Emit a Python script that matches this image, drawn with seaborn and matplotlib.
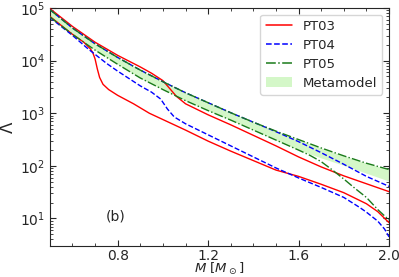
import numpy as np
import pandas as pd
import matplotlib
matplotlib.use("Agg")
import matplotlib.pyplot as plt
import seaborn as sns
from matplotlib.lines import Line2D
from matplotlib.patches import Patch
from matplotlib.ticker import MultipleLocator, LogLocator, NullFormatter

# --- DATA (log10 Lambda) ---
m_band = [0.5, 0.6, 0.7, 0.8, 0.9, 1.0, 1.1, 1.2, 1.3, 1.4, 1.5, 1.6, 1.7, 1.8, 1.9, 2.0]
band_top = [4.97, 4.62, 4.32, 4.06, 3.82, 3.60, 3.39, 3.20, 3.01, 2.83, 2.66, 2.50, 2.34, 2.19, 2.05, 1.93]
band_low = [4.83, 4.50, 4.20, 3.93, 3.67, 3.45, 3.24, 3.05, 2.87, 2.68, 2.49, 2.30, 2.15, 2.01, 1.86, 1.71]

m_pt03a = [0.5, 0.6, 0.7, 0.8, 0.9, 0.95, 1.0, 1.03, 1.06, 1.1, 1.2, 1.3, 1.4, 1.5, 1.6, 1.7, 1.8, 1.9, 2.0]
pt03a = [4.99, 4.65, 4.35, 4.10, 3.88, 3.76, 3.62, 3.47, 3.32, 3.18, 2.97, 2.78, 2.58, 2.38, 2.17, 1.98, 1.81, 1.66, 1.51]

m_pt03b = [0.5, 0.6, 0.65, 0.68, 0.69, 0.70, 0.71, 0.72, 0.735, 0.76, 0.8, 0.87, 0.94, 1.0, 1.1, 1.2, 1.3,
           1.4, 1.5, 1.6, 1.7, 1.8, 1.9, 1.95, 2.0]
pt03b = [4.84, 4.50, 4.35, 4.22, 4.15, 4.03, 3.84, 3.68, 3.55, 3.45, 3.34, 3.18, 3.00, 2.88, 2.68, 2.47, 2.28,
         2.10, 1.92, 1.80, 1.65, 1.49, 1.28, 1.13, 0.92]

m_pt04a = [0.5, 0.6, 0.7, 0.8, 0.9, 1.0, 1.1, 1.2, 1.3, 1.4, 1.5, 1.6, 1.7, 1.8, 1.9, 2.0]
pt04a = [4.97, 4.62, 4.32, 4.06, 3.82, 3.60, 3.39, 3.20, 3.01, 2.83, 2.65, 2.46, 2.25, 2.03, 1.80, 1.61]

m_pt04b = [0.5, 0.6, 0.67, 0.75, 0.8, 0.9, 0.95, 0.99, 1.02, 1.05, 1.1, 1.2, 1.3, 1.4, 1.5, 1.6, 1.7, 1.8,
           1.87, 1.9, 1.95, 1.98, 2.0]
pt04b = [4.82, 4.48, 4.22, 3.95, 3.80, 3.52, 3.40, 3.27, 3.08, 2.93, 2.80, 2.59, 2.38, 2.17, 1.96, 1.77, 1.59,
         1.40, 1.21, 1.12, 0.95, 0.80, 0.65]

m_pt05a = [0.5, 0.6, 0.7, 0.8, 0.9, 1.0, 1.1, 1.2, 1.3, 1.4, 1.5, 1.6, 1.7, 1.8, 1.9, 2.0]
pt05a = [4.97, 4.62, 4.32, 4.06, 3.82, 3.60, 3.39, 3.20, 3.01, 2.83, 2.66, 2.50, 2.34, 2.19, 2.05, 1.93]

m_pt05b = [0.5, 0.6, 0.7, 0.8, 0.9, 1.0, 1.1, 1.2, 1.3, 1.4, 1.5, 1.6, 1.65, 1.7, 1.75, 1.8, 1.85, 1.9, 1.95, 2.0]
pt05b = [4.83, 4.50, 4.20, 3.93, 3.67, 3.45, 3.24, 3.05, 2.87, 2.68, 2.49, 2.30, 2.20, 2.08, 1.92, 1.75, 1.57,
         1.40, 1.17, 0.97]

sns.set_style("ticks")
plt.rcParams['font.family'] = ['DejaVu Sans']
plt.rcParams['mathtext.fontset'] = 'dejavusans'

fig = plt.figure(figsize=(3.99, 2.77), dpi=100)
ax = fig.add_axes([0.125, 0.112, 0.85, 0.859])

# metamodel band
ax.fill_between(m_band, 10 ** np.array(band_low), 10 ** np.array(band_top),
                color="#d4f7c8", lw=0, zorder=1)

curves = [
    (m_pt03a, pt03a, "red", "-"), (m_pt03b, pt03b, "red", "-"),
    (m_pt04a, pt04a, "blue", "--"), (m_pt04b, pt04b, "blue", "--"),
    (m_pt05a, pt05a, "#1a7a1a", "-."), (m_pt05b, pt05b, "#1a7a1a", "-."),
]
for m, lv, c, ls in curves:
    df = pd.DataFrame({"M": m, "L": 10 ** np.array(lv)})
    sns.lineplot(data=df, x="M", y="L", ax=ax, color=c, linestyle=ls, lw=1.0, zorder=3)

ax.set_yscale("log")
ax.set_xlim(0.5, 2.0)
ax.set_ylim(3, 1e5)
ax.set_xticks([0.8, 1.2, 1.6, 2.0])
ax.xaxis.set_minor_locator(MultipleLocator(0.1))
ax.yaxis.set_major_locator(LogLocator(base=10, numticks=10))
ax.yaxis.set_minor_locator(LogLocator(base=10, subs=np.arange(2, 10), numticks=20))
ax.yaxis.set_minor_formatter(NullFormatter())
ax.tick_params(which="both", direction="in", top=True, right=True, labelsize=10)
ax.tick_params(which="major", length=4)
ax.tick_params(which="minor", length=2)
ax.tick_params(axis="x", pad=2)

ax.set_xlabel(r"$M\ [M_\odot]$", fontsize=9.5, labelpad=-1)
ax.set_ylabel(r"$\Lambda$", fontsize=12, labelpad=2)
ax.text(0.79, 11, "(b)", ha="center", va="center", fontsize=10)

handles = [
    Line2D([], [], color="red", ls="-", lw=1.1),
    Line2D([], [], color="blue", ls="--", lw=1.1),
    Line2D([], [], color="#1a7a1a", ls="-.", lw=1.1),
    Patch(facecolor="#d4f7c8", edgecolor="none"),
]
ax.legend(handles, ["PT03", "PT04", "PT05", "Metamodel"], loc="upper right", fontsize=9.5,
          handlelength=2.0, labelspacing=0.45, borderaxespad=0.5)

fig.savefig("out.png", dpi=100)
